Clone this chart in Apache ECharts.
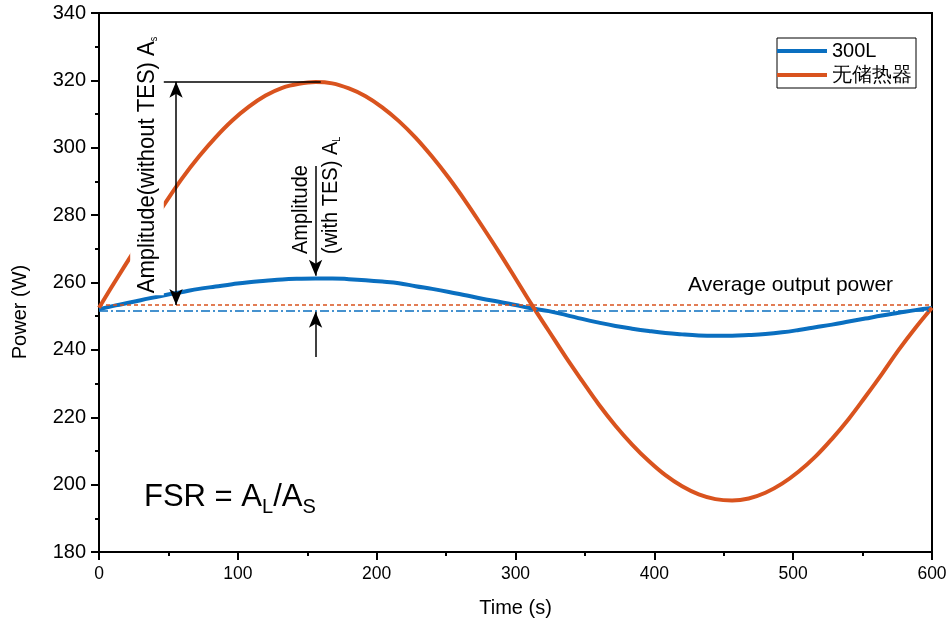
<!DOCTYPE html>
<html>
<head>
<meta charset="utf-8">
<script src="https://cdn.jsdelivr.net/npm/echarts@6/dist/echarts.min.js"></script>
<style>html,body{margin:0;padding:0;background:#fff;}#c{width:952px;height:630px;}</style>
</head>
<body>
<div id="c"></div>
<script>
// ---- data ----
const times = [0,12,24,36,48,60,72,84,96,108,120,132,144,156,168,180,192,204,216,228,240,252,264,276,288,300,
  312,324,336,348,360,372,384,396,408,420,432,444,456,468,480,492,504,516,528,540,552,564,576,588,600];
const noStorage = [252.5,260.6,268.5,276.3,283.8,291.0,297.4,303.1,308.1,312.2,315.5,317.8,319.0,319.5,319.1,317.6,315.3,312.0,307.9,303.0,297.3,291.0,284.1,276.7,269.1,261.2,
  253.2,245.6,238.0,230.8,223.8,217.5,211.9,207.0,202.8,199.5,197.1,195.7,195.3,195.9,197.6,200.3,203.9,208.3,213.6,219.5,226.1,232.9,240.0,246.5,252.5];
const tes300L = [252.1,253.2,254.2,255.3,256.3,257.2,258.1,258.8,259.5,260.1,260.5,260.9,261.1,261.2,261.2,261.0,260.7,260.3,259.8,258.9,258.1,257.2,256.2,255.2,254.3,253.3,
  252.3,251.5,250.4,249.2,248.1,247.1,246.3,245.6,245.0,244.6,244.3,244.2,244.2,244.4,244.7,245.2,245.9,246.7,247.5,248.4,249.3,250.2,251.0,251.8,252.4];
const seriesNames = ['300L', '无储热器'];
const avgNoStorage = 253.3;
const avg300L = 251.6;
const peakNoStorage = 319.6, peakTime = 159.7, lineStartTime = 45.6;
const arrowTime = 55.5;
const smallArrowTime = 156;
const smallArrowDown = [294.6, 262.0];
const smallArrowUp = [237.9, 251.3];

const BLUE = '#0a6fc0';
const ORANGE = '#d9531e';
const FONT = '"Liberation Sans", Arial, sans-serif';

const chart = echarts.init(document.getElementById('c'), null, {renderer: 'canvas'});
const pairs = (xs, ys) => xs.map((x, i) => [x, ys[i]]);

const option = {
  animation: false,
  backgroundColor: '#fff',
  grid: {left: 99, right: 20, top: 13, bottom: 78, show: true, borderColor: '#000', borderWidth: 2, backgroundColor: 'transparent'},
  xAxis: {
    type: 'value', min: 0, max: 600, interval: 100,
    name: 'Time (s)', nameLocation: 'middle', nameGap: 46,
    nameTextStyle: {fontFamily: FONT, fontSize: 20, color: '#000'},
    axisLine: {lineStyle: {color: '#000', width: 2}},
    axisTick: {show: true, length: 8, lineStyle: {color: '#000', width: 2}},
    minorTick: {show: true, splitNumber: 2, length: 4, lineStyle: {color: '#000', width: 2}},
    axisLabel: {fontFamily: FONT, fontSize: 17.5, color: '#000', margin: 13},
    splitLine: {show: false}
  },
  yAxis: {
    type: 'value', min: 180, max: 340, interval: 20,
    axisLine: {lineStyle: {color: '#000', width: 2}},
    axisTick: {show: true, length: 8, lineStyle: {color: '#000', width: 2}},
    minorTick: {show: true, splitNumber: 2, length: 4, lineStyle: {color: '#000', width: 2}},
    axisLabel: {fontFamily: FONT, fontSize: 20, color: '#000', margin: 13},
    splitLine: {show: false}
  },
  legend: {
    data: seriesNames,
    orient: 'vertical', top: 38, right: 36,
    icon: 'rect',
    borderColor: '#000', borderWidth: 1, borderRadius: 0,
    padding: [3, 4, 3, 0], itemGap: 4, itemWidth: 50, itemHeight: 4,
    textStyle: {fontFamily: FONT, fontSize: 20, color: '#000', padding: [0, 0, 0, 0]},
    backgroundColor: '#fff'
  },
  series: [
    {
      name: seriesNames[0], type: 'line', data: pairs(times, tes300L),
      smooth: 0.4, symbol: 'none', showSymbol: false, lineStyle: {color: BLUE, width: 4}, itemStyle: {color: BLUE}, z: 3,
      markLine: {
        silent: true, symbol: 'none', label: {show: false},
        lineStyle: {color: BLUE, width: 1.5, type: [9, 3, 2, 3]},
        data: [{yAxis: avg300L}]
      }
    },
    {
      name: seriesNames[1], type: 'line', data: pairs(times, noStorage),
      smooth: 0.4, symbol: 'none', showSymbol: false, lineStyle: {color: ORANGE, width: 4}, itemStyle: {color: ORANGE}, z: 4,
      markLine: {
        silent: true, symbol: 'none', label: {show: false},
        lineStyle: {color: ORANGE, width: 1.5, type: [4, 3]},
        data: [{yAxis: avgNoStorage}]
      }
    },
    {
      name: 'annot', type: 'line', data: [], z: 6,
      markLine: {
        silent: true, label: {show: false}, symbolSize: [10, 16],
        lineStyle: {color: '#000', width: 1.5, type: 'solid'},
        data: [
          [{coord: [lineStartTime, peakNoStorage], symbol: 'none'}, {coord: [peakTime, peakNoStorage], symbol: 'none'}],
          [{coord: [arrowTime, peakNoStorage], symbol: 'arrow'}, {coord: [arrowTime, avgNoStorage], symbol: 'arrow'}],
          [{coord: [smallArrowTime, smallArrowDown[0]], symbol: 'none'}, {coord: [smallArrowTime, smallArrowDown[1]], symbol: 'arrow'}],
          [{coord: [smallArrowTime, smallArrowUp[0]], symbol: 'none'}, {coord: [smallArrowTime, smallArrowUp[1]], symbol: 'arrow'}]
        ]
      }
    }
  ],
  graphic: [
    {
      type: 'text', x: 20, y: 312, rotation: Math.PI / 2, z: 100,
      style: {text: 'Power (W)', fontFamily: FONT, fontSize: 20, fill: '#000', align: 'center', verticalAlign: 'middle'}
    },
    {
      type: 'text', x: 147, y: 165, rotation: Math.PI / 2, z: 100, scaleY: 1.12,
      style: {
        text: 'Amplitude(without TES) A{s|s}',
        fontFamily: FONT, fontSize: 22, fill: '#000',
        align: 'center', verticalAlign: 'middle',
        backgroundColor: '#fff', padding: [4, 2],
        rich: {s: {fontSize: 9, fontFamily: FONT, verticalAlign: 'bottom', fill: '#000'}}
      }
    },
    {
      type: 'text', x: 301, y: 254, rotation: Math.PI / 2, z: 100, scaleY: 1.12,
      style: {text: 'Amplitude', fontFamily: FONT, fontSize: 20, fill: '#000', align: 'left', verticalAlign: 'middle'}
    },
    {
      type: 'text', x: 331, y: 254, rotation: Math.PI / 2, z: 100, scaleY: 1.12,
      style: {
        text: '(with TES) A{s|L}', fontFamily: FONT, fontSize: 20, fill: '#000', align: 'left', verticalAlign: 'middle',
        rich: {s: {fontSize: 9, fontFamily: FONT, verticalAlign: 'bottom', fill: '#000'}}
      }
    },
    {
      type: 'text', x: 688, y: 285, z: 100,
      style: {text: 'Average output power', fontFamily: FONT, fontSize: 21, fill: '#000', align: 'left', verticalAlign: 'middle'}
    },
    {
      type: 'text', x: 144, y: 497, z: 100,
      style: {
        text: 'FSR = A{s|L}/A{s|S}', fontFamily: FONT, fontSize: 31, fill: '#000', align: 'left', verticalAlign: 'middle',
        rich: {s: {fontSize: 20, fontFamily: FONT, verticalAlign: 'bottom', fill: '#000', padding: [20, 0, 0, 0]}}
      }
    }
  ]
};
chart.setOption(option);
</script>
</body>
</html>
